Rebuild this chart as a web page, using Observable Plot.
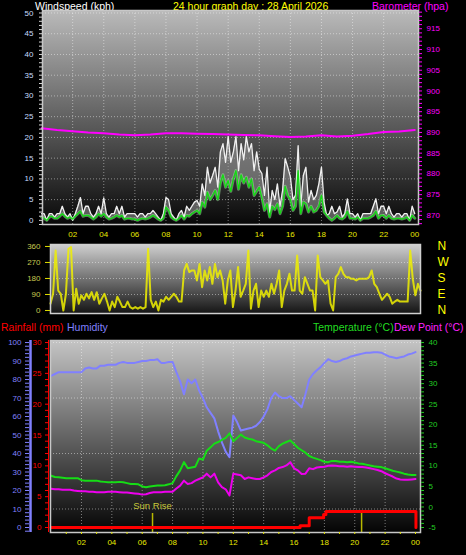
<!DOCTYPE html>
<html><head><meta charset="utf-8">
<script src="https://cdn.jsdelivr.net/npm/d3@7"></script>
<script src="https://cdn.jsdelivr.net/npm/@observablehq/plot@0.6"></script>
<style>
html,body{margin:0;padding:0;background:#000;}
#wrap{position:relative;width:466px;height:555px;background:#000;overflow:hidden;font-family:"Liberation Sans",Arial,sans-serif;}
.t{position:absolute;font-size:10.5px;line-height:10.5px;white-space:nowrap;}
.p{position:absolute;left:0;}
</style></head><body>
<div id="wrap">
  <div class="t" style="left:35px;top:1px;color:#ffffff">Windspeed (kph)</div>
  <div class="t" style="left:173px;top:1px;color:#ffff00">24 hour graph day : 28 April 2026</div>
  <div class="t" style="left:372px;top:1px;color:#ff00ff">Barometer (hpa)</div>
  <div class="t" style="left:1px;top:322px;color:#ff0000">Rainfall (mm)</div>
  <div class="t" style="left:67px;top:322px;color:#8080ff">Humidity</div>
  <div class="t" style="left:313px;top:322px;color:#22dd22">Temperature (°C)</div>
  <div class="t" style="left:394px;top:322px;color:#ff22ff">Dew Point (°C)</div>
  <div id="pA" class="p" style="top:0px"></div>
  <div id="pB" class="p" style="top:240px"></div>
  <div id="pC" class="p" style="top:320px"></div>
</div>
<script>
// ---------- DATA ----------
// wind gust (kph), every 10 minutes from 00:00 to 24:00
const windGust = [
 1.6,1.6,0,1.6,1.6,0.8,
 1.6,1.6,3.4,1.6,0.8,1.6,
 0,1.6,3.4,5.5,1.6,3.4,
 3.4,1.6,0.8,1.6,3.4,1.6,
 5.4,1.6,0.8,1.6,1.6,3.4,
 1.6,3.4,0.8,1.6,1.6,1.6,
 1.6,0.8,1.6,1.6,0.8,1.6,
 1.6,2.4,1.6,0.8,0,1.6,
 5.5,5.0,1.6,0.8,0,1.6,
 2.4,0.8,3.4,2.4,3.4,4.4,
 4.8,3.4,8.8,6.0,12.8,9.0,
 10.8,12.8,8.0,16.5,18.5,14.0,
 20.2,14.0,16.5,20.2,12.0,18.5,
 14.6,20.2,16.5,18.5,12.0,16.5,
 12.3,11.3,6.0,12.8,2.0,7.2,
 5.0,8.8,3.4,7.2,14.9,12.8,
 10.5,5.0,6.0,18.0,3.4,10.8,
 12.8,4.4,7.2,5.0,6.0,8.8,
 12.8,4.4,1.2,1.6,3.4,1.6,
 2.0,3.4,0.8,1.6,5.2,1.6,
 1.6,0.8,1.6,0,1.6,1.6,
 1.6,1.6,3.4,5.2,1.6,3.4,
 3.4,1.6,3.4,1.6,0.8,1.6,
 1.6,0.8,1.6,1.6,0,3.4,
 1.6];
// average wind speed (kph), every 10 minutes
const windAvg = [
 0.8,0.5,0,0.8,1.0,0.5,
 0.5,1.0,1.6,1.0,0.5,0.8,
 0.3,1.0,1.6,2.2,1.0,1.2,
 1.2,0.8,0.3,0.8,1.6,1.0,
 1.6,0.8,0.3,0.5,0.8,1.2,
 0.8,1.2,0.3,0.5,0.5,0.3,
 0.3,0,0.3,0.5,0.3,0.5,
 0.8,1.2,0.8,0.3,0,0.5,
 3.2,2.4,0.8,0.3,0,0.5,
 1.2,0.3,1.2,1.0,1.6,2.0,
 2.4,1.6,4.4,3.2,6.8,5.0,
 6.0,7.2,5.0,9.0,11.0,8.0,
 9.6,7.0,10.0,12.0,7.5,11.0,
 9.0,10.4,8.0,10.0,6.0,7.0,
 8.0,5.5,2.4,4.0,0.8,3.4,
 2.6,4.0,1.6,3.4,8.2,6.0,
 5.0,2.4,3.4,12.0,1.6,4.4,
 4.0,2.0,3.4,2.0,2.4,3.4,
 6.0,2.0,1.2,0.5,0,0.5,
 1.2,0.5,0.3,0.8,2.2,0.5,
 0.5,0.3,0.8,0,0.5,0.5,
 0.5,0.8,1.2,2.2,0.5,1.2,
 1.2,0.5,1.2,0.5,0.3,0.5,
 0.5,0.3,0.5,0.8,0,1.2,
 0.5];
// barometer (hPa), hourly
const barometer = [891.0,890.6,890.3,890.0,889.8,889.5,889.3,889.5,889.8,889.8,889.7,889.6,889.5,
 889.4,889.3,889.1,888.9,889.0,889.3,889.0,889.2,889.6,890.1,890.2,890.6];
// wind direction (degrees), every 10 minutes
const windDir = [
 38,94,337,112,94,0,
 94,347,356,0,122,38,
 85,60,94,68,103,60,
 103,38,68,94,50,0,
 50,19,77,50,19,19,
 50,19,10,19,10,19,
 10,19,347,60,19,50,
 0,60,50,77,60,77,
 94,77,50,50,225,262,
 216,225,225,169,262,131,
 225,169,244,150,262,187,
 225,169,38,169,225,19,
 112,244,77,112,150,337,
 10,112,150,19,112,77,
 112,77,150,94,150,225,
 19,112,150,206,112,112,
 309,112,94,187,150,112,
 112,0,309,187,169,150,
 169,38,0,187,206,244,
 206,187,187,178,178,169,
 178,178,178,178,187,225,
 150,131,94,60,77,94,
 77,38,50,60,50,50,
 50,50,337,178,85,150,
 112];
// humidity (%), every 15 minutes
const humidity = [
 82,83,84,84, 84,84,84,84, 84,86,86.5,86, 86,87.5,87.5,88,
 88,88,89,89.5, 89,89,89,89.5, 90,90,90.5,90.5, 91,89,89,89.5,
 89.5,84,79,72, 80,78,80,74, 70,65,62,59, 52,46,41,38,
 60.5,57,52.4,53, 53.5,54,55,57, 60,64,70,73, 71,70,70,71,
 69,67,65,72, 80,83,85,86.7, 89,91,90,89.5, 90,91,91.5,92.5,
 93,93.5,94,94.5, 94.5,94.8,94.8,94.5, 93.5,92.5,92,91.5, 92,92.5,93.5,94,
 94.8];
// temperature (°C), every 15 minutes
const temperature = [
 7.6,7.3,7.2,7.1, 7.0,7.0,7.0,7.0, 6.5,6.4,6.4,6.4, 6.4,6.2,6.1,6.0,
 6.0,6.0,6.1,6.0, 5.8,5.6,5.6,5.5, 5.0,4.8,5.0,5.1, 5.2,5.2,5.3,5.5,
 5.8,7.5,8.9,10.9, 9.4,9.6,9.8,11.8, 11.5,13.7,14.5,15.4, 15.8,16.3,16.8,17.9,
 16.0,16.8,17.6,16.9, 16.6,16.4,16.0,15.8, 15.6,15.0,14.2,13.7, 14.8,15.4,15.8,16.2,
 15.3,14.4,13.8,13.2, 12.4,12.0,11.7,11.4, 11.0,10.9,11.2,11.2, 11.0,11.0,10.9,11.0,
 10.8,10.6,10.5,10.3, 10.1,9.9,9.8,9.7, 9.4,9.1,8.8,8.6, 8.4,8.1,7.9,7.8,
 7.8];
// dew point (°C), every 15 minutes
const dewPoint = [
 4.4,4.3,4.3,4.2, 4.2,4.2,4.0,3.9, 3.8,3.8,3.7,3.7, 3.6,3.6,3.6,3.7,
 3.7,3.7,3.6,3.5, 3.5,3.4,3.3,3.2, 3.0,3.1,3.4,3.6, 3.6,3.6,3.7,3.7,
 3.7,4.5,5.2,6.4, 5.6,5.8,6.4,6.8, 7.2,8.1,7.2,8.1, 6.0,4.8,4.3,2.8,
 8.1,7.9,7.7,6.8, 7.2,7.0,6.8,6.8, 7.2,7.7,8.5,8.9, 9.5,9.7,10.1,10.9,
 9.4,8.9,8.0,8.1, 9.4,9.2,9.6,9.7, 9.8,10.0,10.1,10.0, 9.9,9.9,9.8,9.9,
 9.8,9.7,9.7,9.6, 9.4,9.2,9.0,8.7, 8.2,7.8,7.4,6.9, 6.7,6.6,6.6,6.7,
 6.8];
// rainfall (mm, cumulative), change points
const rainHour = [0, 16.4, 17.0, 17.95, 18.1, 24.03];
const rainMm   = [0, 0.3, 1.6, 2.1, 2.6, 0];
// sun events
const sunHour  = [6.68, 20.45];
const sunLabel = ["Sun Rise", ""];
// ticks / labels
const hourTicks  = [2,4,6,8,10,12,14,16,18,20,22,24];
const hourLabels = ["02","04","06","08","10","12","14","16","18","20","22","00"];
const windTicks  = [0,5,10,15,20,25,30,35,40,45,50];
const baroTicks  = [870,875,880,885,890,895,900,905,910,915];
const dirTicks   = [0,90,180,270,360];
const dirLetters = ["N","E","S","W","N"];
const humTicks   = [0,10,20,30,40,50,60,70,80,90,100];
const humGrid    = [10,40,70,100];
const rainTicks  = [0,5,10,15,20,25,30];
const tempTicks  = [-5,0,5,10,15,20,25,30,35,40];

// ---------- helpers ----------
const FONT = "'Liberation Sans', Arial, sans-serif";
const YEL = "#e8e800";
const hourLabelMap = new Map(hourTicks.map((h, i) => [h, hourLabels[i]]));
const dirLetterMap = new Map(dirTicks.map((d, i) => [d, dirLetters[i]]));
const BARO_OFF = 868.8;               // barometer drawn on wind-speed axis units
const rY = r => r * 100 / 30;         // rainfall -> humidity axis units
const tY = t => (t + 5) * 100 / 45;   // temperature -> humidity axis units
const grid = {stroke: "#ffffff", strokeOpacity: 0.45, strokeDasharray: "1,2"};
const ax = (o) => ({label: null, ...o});
function styleFor() { return {background: "transparent", fontFamily: FONT, fontSize: "8px", overflow: "visible"}; }
function addGradient(svg, id, top, bottom) {
  const defs = d3.select(svg).insert("defs", ":first-child");
  const g = defs.append("linearGradient").attr("id", id).attr("x1", 0).attr("y1", 0).attr("x2", 0).attr("y2", 1);
  g.append("stop").attr("offset", 0).attr("stop-color", top);
  g.append("stop").attr("offset", 1).attr("stop-color", bottom);
}

// ---------- Panel A: wind + barometer ----------
const windRows = windGust.map((g, i) => ({h: i / 6, gust: g, avg: windAvg[i]}));
const baroRows = barometer.map((b, i) => ({h: i, b}));
const baroMinor = d3.range(868, 920).map(b => b - BARO_OFF);

const A = Plot.plot({
  width: 466, height: 240,
  marginTop: 10, marginBottom: 16, marginLeft: 42, marginRight: 48,
  style: styleFor(),
  x: {domain: [0.06, 24.24], axis: null, label: null},
  y: {domain: [-1, 50.6], axis: null, label: null},
  marks: [
    Plot.frame({fill: "url(#gradA)"}),
    Plot.gridY(windTicks.slice(1), grid),
    Plot.gridX(hourTicks.slice(0, -1), grid),
    Plot.areaY(windRows, {x: "h", y1: "avg", y2: "gust", fill: "#a8a8a8", fillOpacity: 0.5}),
    Plot.lineY(windRows, {x: "h", y: "gust", stroke: "#f0f0f0", strokeWidth: 1.3}),
    Plot.lineY(windRows, {x: "h", y: "avg", stroke: "#b0f0b0", strokeWidth: 3, strokeOpacity: 0.45}),
    Plot.lineY(windRows, {x: "h", y: "avg", stroke: "#10e010", strokeWidth: 1.2}),
    Plot.lineY(baroRows, {x: "h", y: d => d.b - BARO_OFF, stroke: "#ff00ff", strokeWidth: 2}),
    Plot.frame({stroke: "#c8c8c8", strokeWidth: 1.5}),
    Plot.axisY(ax({ticks: 50, anchor: "left", tickSize: 3, tickFormat: () => "", stroke: "#d8d8d8"})),
    Plot.axisY(windTicks, ax({anchor: "left", tickSize: 0, tickPadding: 9, fill: "#c8dcff", fontSize: 8})),
    Plot.axisY(baroMinor, ax({anchor: "right", tickSize: 3, tickFormat: () => "", stroke: "#ff00ff"})),
    Plot.axisY(baroTicks.map(b => b - BARO_OFF), ax({anchor: "right", tickSize: 0, tickPadding: 8, fill: "#ff00ff", fontSize: 8, tickFormat: d => Math.round(d + BARO_OFF)})),
    Plot.axisX(hourTicks, ax({anchor: "bottom", tickSize: 0, tickPadding: 7, fill: YEL, fontSize: 8, tickFormat: d => hourLabelMap.get(d)}))
  ]
});
addGradient(A, "gradA", "#bababa", "#080808");
document.getElementById("pA").append(A);

// ---------- Panel B: wind direction ----------
const dirRows = windDir.map((d, i) => ({h: i / 6, d}));
const B = Plot.plot({
  width: 466, height: 80,
  marginTop: 4, marginBottom: 7, marginLeft: 50, marginRight: 46,
  style: styleFor(),
  x: {domain: [0, 24], axis: null, label: null},
  y: {domain: [-17, 371], axis: null, label: null},
  marks: [
    Plot.frame({fill: "url(#gradB)"}),
    Plot.gridY(dirTicks.slice(1, -1), grid),
    Plot.lineY(dirRows, {x: "h", y: "d", stroke: "#f0f000", strokeWidth: 2, strokeOpacity: 0.85}),
    Plot.frame({stroke: "#d0d0d0", strokeWidth: 1.5}),
    Plot.axisY(dirTicks, ax({anchor: "left", tickSize: 5, tickPadding: 5, stroke: "#e0e000", fill: "#c8c850", fontSize: 8})),
    Plot.axisY(dirTicks, ax({anchor: "right", tickSize: 0, tickPadding: 17, fill: "#ffff00", fontSize: 12, tickFormat: d => dirLetterMap.get(d)}))
  ]
});
addGradient(B, "gradB", "#cfcfcf", "#141414");
document.getElementById("pB").append(B);

// ---------- Panel C: rain, humidity, temperature, dew point ----------
const xDomC = [-0.04, 24.33];
const humRows = humidity.map((v, i) => ({h: i / 4, v}));
const tempRows = temperature.map((v, i) => ({h: i / 4, v}));
const dewRows = dewPoint.map((v, i) => ({h: i / 4, v}));
const rainRows = rainHour.map((h, i) => ({h, mm: rainMm[i]}));
const sunRows = sunHour.map((h, i) => ({h, label: sunLabel[i]}));

const C = Plot.plot({
  width: 466, height: 235,
  marginTop: 20, marginBottom: 23, marginLeft: 50, marginRight: 46,
  style: styleFor(),
  x: {domain: xDomC, axis: null, label: null},
  y: {domain: [-2.7, 101.1], axis: null, label: null},
  marks: [
    Plot.frame({fill: "url(#gradC)"}),
    Plot.gridY(humGrid, grid),
    Plot.gridX(hourTicks.slice(0, -1), grid),
    Plot.ruleX(sunRows, {x: "h", stroke: "#b8b800", strokeWidth: 1.5, insetTop: 173}),
    Plot.text(sunRows, {x: "h", text: "label", frameAnchor: "bottom", dy: -24, fill: "#c8c83c", fontSize: 9.5}),
    Plot.lineY(humRows, {x: "h", y: "v", stroke: "#8080ff", strokeWidth: 2}),
    Plot.lineY(tempRows, {x: "h", y: d => tY(d.v), stroke: "#16dd16", strokeWidth: 2}),
    Plot.lineY(dewRows, {x: "h", y: d => tY(d.v), stroke: "#ee00ee", strokeWidth: 2}),
    Plot.line(rainRows, {x: "h", y: d => rY(d.mm), stroke: "#ff0000", strokeWidth: 3, curve: "step-after"}),
    Plot.frame({stroke: "#c8c8c8", strokeWidth: 1.5}),
    Plot.ruleX([xDomC[0]], {stroke: "#8080ff", strokeWidth: 2.5, dx: -20}),
    Plot.ruleX([xDomC[0]], {stroke: "#ff0000", strokeWidth: 1, dx: -2}),
    Plot.axisY(ax({ticks: 50, anchor: "left", dx: -21, tickSize: 4, tickFormat: () => "", stroke: "#8080ff"})),
    Plot.axisY(humTicks, ax({anchor: "left", dx: -20, tickSize: 0, tickPadding: 9, fill: "#8080ff", fontSize: 8})),
    Plot.axisY(d3.range(0, 31).map(rY), ax({anchor: "left", dx: -2, tickSize: 3, tickFormat: () => "", stroke: "#ff0000"})),
    Plot.axisY(rainTicks.map(rY), ax({anchor: "left", dx: -2, tickSize: 0, tickPadding: 7, fill: "#ff0000", fontSize: 8, tickFormat: d => Math.round(d * 30 / 100)})),
    Plot.axisY(d3.range(-5, 41).map(tY), ax({anchor: "right", tickSize: 3, tickFormat: () => "", stroke: "#22cc22"})),
    Plot.axisY(tempTicks.map(tY), ax({anchor: "right", tickSize: 0, tickPadding: 8, fill: "#22cc22", fontSize: 8, tickFormat: d => Math.round(d * 45 / 100 - 5)})),
    Plot.axisX(d3.range(1, 25), ax({anchor: "bottom", tickSize: 2, tickFormat: () => "", stroke: YEL})),
    Plot.axisX(hourTicks, ax({anchor: "bottom", tickSize: 0, tickPadding: 7, fill: YEL, fontSize: 8, tickFormat: d => hourLabelMap.get(d)}))
  ]
});
addGradient(C, "gradC", "#c4c4c4", "#040404");
document.getElementById("pC").append(C);
</script>
</body></html>
